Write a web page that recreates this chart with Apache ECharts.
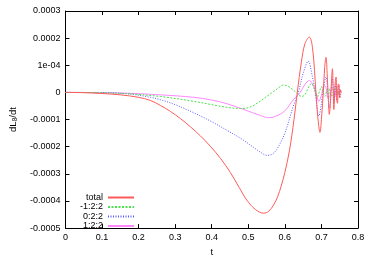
<!DOCTYPE html>
<html><head><meta charset="utf-8">
<script src="https://cdn.jsdelivr.net/npm/echarts@6/dist/echarts.min.js"></script>
<style>html,body{margin:0;padding:0;background:#fff}#c{width:374px;height:262px}</style>
</head><body><div id="c"></div>
<script>
const seriesNames = ['total', '-1:2:2', '0:2:2', '1:2:2'];
const xTicks = ['0','0.1','0.2','0.3','0.4','0.5','0.6','0.7','0.8'];
const yTicks = ['-0.0005','-0.0004','-0.0003','-0.0002','-0.0001','0','1e-04','0.0002','0.0003'];

const totalT = [0,0.05,0.1,0.15,0.2,0.233,0.26,0.287,0.315,0.342,0.369,0.396,0.424,0.451,0.475,0.496,0.52,0.542,0.556,0.569,0.58,0.59,0.600,0.6125,0.625,0.634,0.645,0.655,0.667,0.676,0.685,0.690,0.696,0.701,0.705,0.709,0.7125,0.716,0.719,0.7216,0.725,0.727,0.730,0.732,0.734,0.736,0.738,0.740,0.742,0.744,0.746,0.748,0.750,0.752,0.754];
const totalV = [0,-0.000001,-0.000004,-0.000009,-0.000018,-0.000030,-0.000048,-0.000070,-0.000097,-0.000127,-0.000160,-0.000198,-0.000243,-0.000295,-0.000350,-0.000397,-0.000432,-0.000445,-0.000438,-0.000415,-0.000385,-0.000345,-0.000295,-0.000215,-0.000100,0,0.000110,0.000180,0.000204,0.000160,0,-0.000090,-0.000147,-0.000080,0,0.000095,0.000129,0.000060,-0.000030,-0.000081,-0.000030,0.000030,0.000087,0.000020,-0.000063,-0.000010,0.000040,0.000057,-0.000030,-0.000040,0.000030,0.000030,-0.000020,0.000010,0];

const m1T = [0,0.1,0.17,0.26,0.351,0.424,0.46,0.485,0.505,0.532,0.55,0.569,0.587,0.595,0.605,0.62,0.635,0.646,0.655,0.665,0.673,0.681,0.689,0.695,0.70,0.705,0.71,0.715,0.72,0.725,0.73,0.735,0.74,0.745,0.75,0.754];
const m1V = [0,-0.000001,-0.000005,-0.000015,-0.000033,-0.000051,-0.000058,-0.000059,-0.000054,-0.000033,-0.000015,0.000003,0.000021,0.000027,0.000025,0.000012,-0.000005,-0.000015,-0.000008,0.000020,0.000033,0.000010,-0.000017,0.000005,0.000021,0,-0.000015,0.000010,0.000015,-0.000010,-0.000012,0.000010,0.000012,-0.000010,0.000005,0];

const zT = [0,0.1,0.17,0.233,0.26,0.30,0.351,0.40,0.442,0.48,0.514,0.535,0.551,0.565,0.578,0.6,0.623,0.637,0.65,0.664,0.675,0.683,0.693,0.70,0.705,0.7125,0.717,0.7216,0.726,0.73,0.734,0.738,0.742,0.746,0.750,0.754];
const zV = [0,-0.000001,-0.000005,-0.000018,-0.000027,-0.000045,-0.000075,-0.000108,-0.000140,-0.000170,-0.000202,-0.000222,-0.000232,-0.000228,-0.000210,-0.000150,-0.000051,0,0.000070,0.000115,0.000060,0,-0.000087,-0.000040,0.000010,0.000057,0.000010,-0.000057,0,0.000051,-0.000040,0.000030,-0.000030,0.000025,-0.000020,0];

const p1T = [0,0.1,0.17,0.26,0.351,0.40,0.442,0.49,0.533,0.555,0.575,0.6,0.623,0.642,0.655,0.667,0.678,0.685,0.693,0.70,0.707,0.712,0.718,0.723,0.728,0.733,0.737,0.741,0.745,0.75,0.754];
const p1V = [0,-0.000001,-0.000003,-0.000009,-0.000018,-0.000028,-0.000042,-0.000064,-0.000085,-0.000093,-0.000088,-0.000068,-0.000027,0,0.000030,0.000044,0.000025,0,-0.000033,-0.000010,0.000025,0.000020,-0.000020,-0.000015,0.000018,0.000010,-0.000015,0.000012,-0.000010,0.000008,0];

const zip = (a, b) => a.map((t, i) => [t, b[i]]);
const colors = ['#ff5a5a', '#4ee04e', '#5a5aff', '#ff88ff'];
const styles = ['solid', [2, 1.5], [1, 1.5], 'solid'];
const datas = [zip(totalT, totalV), zip(m1T, m1V), zip(zT, zV), zip(p1T, p1V)];

const fnt = 'Liberation Sans, Arial, sans-serif';
const yFmt = v => { const r = Math.round(v * 1e4); return yTicks[r + 5]; };
const xFmt = v => { const r = Math.round(v * 10); return xTicks[r]; };

const axisCommon = () => ({
  axisLine: { show: true, onZero: false, lineStyle: { color: '#000', width: 1 } },
  axisTick: { show: true, inside: true, length: 4, lineStyle: { color: '#000' } },
  splitLine: { show: false }
});

const chart = echarts.init(document.getElementById('c'), null, { renderer: 'canvas' });
const legendTops = [193, 202.5, 212, 221.5];
chart.setOption({
  animation: false,
  grid: { left: 64.5, right: 16, top: 11, bottom: 29, containLabel: false },
  xAxis: [
    Object.assign({ type: 'value', min: 0, max: 0.8, interval: 0.1, position: 'bottom',
      name: 't', nameLocation: 'middle', nameGap: 18,
      nameTextStyle: { fontFamily: fnt, fontSize: 9.5, color: '#000' },
      axisLabel: { formatter: xFmt, fontFamily: fnt, fontSize: 9, color: '#000', margin: 5 } }, axisCommon()),
    Object.assign({ type: 'value', min: 0, max: 0.8, interval: 0.1, position: 'top',
      axisLabel: { show: false } }, axisCommon())
  ],
  yAxis: [
    Object.assign({ type: 'value', min: -0.0005, max: 0.0003, interval: 0.0001, position: 'left',
      name: '{a|dL}{s|8}{a|/dt}', nameLocation: 'middle', nameGap: 34, nameRotate: 90,
      nameTextStyle: { rich: {
        a: { fontFamily: fnt, fontSize: 9.5, color: '#000', lineHeight: 12, verticalAlign: 'middle' },
        s: { fontFamily: fnt, fontSize: 6.5, color: '#000', lineHeight: 6, verticalAlign: 'bottom' } } },
      axisLabel: { formatter: yFmt, fontFamily: fnt, fontSize: 9, color: '#000', margin: 5 } }, axisCommon()),
    Object.assign({ type: 'value', min: -0.0005, max: 0.0003, interval: 0.0001, position: 'right',
      axisLabel: { show: false } }, axisCommon())
  ],
  legend: seriesNames.map((n, i) => ({
    data: [n], orient: 'vertical', align: 'right', right: 239, top: legendTops[i],
    padding: 0, itemWidth: 26, itemHeight: 8, itemGap: 0,
    itemStyle: { opacity: 0 },
    textStyle: { fontFamily: fnt, fontSize: 9, color: '#000' }
  })),
  series: seriesNames.map((n, i) => ({
    name: n, type: 'line', data: datas[i], showSymbol: false, symbol: 'none', smooth: 0.35,
    lineStyle: { color: colors[i], width: 1, type: styles[i] }, itemStyle: { color: colors[i] },
    z: 10 - i
  }))
});
</script></body></html>
